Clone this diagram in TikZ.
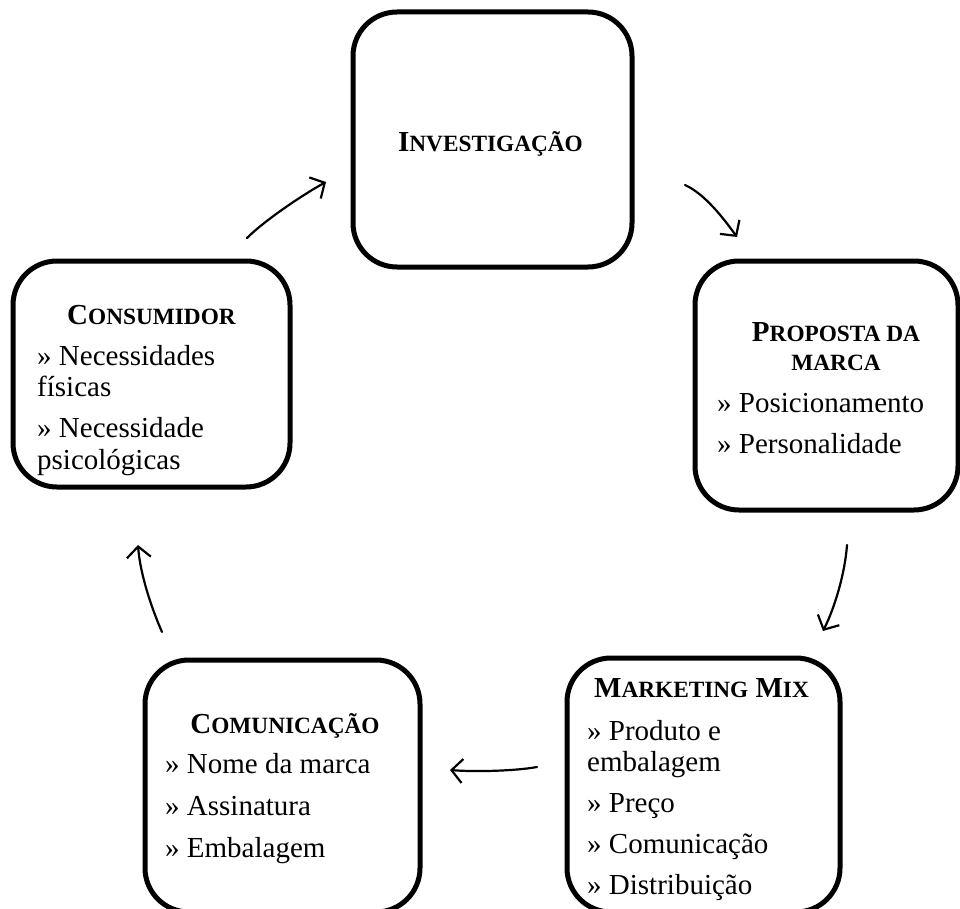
\documentclass[tikz,border=0pt]{standalone}
\usepackage{fontspec}
\setmainfont{Liberation Serif}
\usetikzlibrary{arrows.meta}

% bold heading with hand-made small capitals
\newcommand\smallcapsize{\fontsize{23.3}{28}\selectfont}
\newcommand\headcap[2]{{\bfseries #1{\smallcapsize #2}}}

\begin{document}
\begin{tikzpicture}[x=1pt,y=-1pt,
  stage/.style={draw, line width=5pt, rounded corners=44pt, inner sep=0pt},
  heading/.style={inner sep=0pt, anchor=base},
  items/.style={inner sep=0pt, anchor=base west},
  flow/.style={line width=2.2pt, line cap=round, -{Straight Barb[length=11pt,width=24pt]}},
  every node/.append style={font=\fontsize{29}{31.5}\selectfont}
]
\useasboundingbox (0,0) rectangle (960,909);
\clip (0,0) rectangle (960,909);

% the five stages
\node[stage, minimum width=279pt, minimum height=255pt] (inv)  at (492.5,139.5) {};
\node[stage, minimum width=263pt, minimum height=249pt] (prop) at (826.5,385.5) {};
\node[stage, minimum width=277pt, minimum height=226pt] (cons) at (151.5,374)   {};
\node[stage, minimum width=273pt, minimum height=254pt] (mix)  at (703.5,785)   {};
\node[stage, minimum width=275pt, minimum height=252pt] (com)  at (282.5,786)   {};

% headings
\node[heading] (invT) at (490.5,152) {\headcap{I}{NVESTIGAÇÃO}};
\node[heading] (propT) at (836,341) {\begin{tabular}[t]{@{}c@{}}\headcap{P}{ROPOSTA DA}\\[-2.5pt]{\bfseries\smallcapsize MARCA}\end{tabular}};
\node[heading] (consT) at (151.5,324) {\headcap{C}{ONSUMIDOR}};
\node[heading] (mixT) at (701.5,697) {\headcap{M}{ARKETING} \headcap{M}{IX}};
\node[heading] (comT) at (285,733) {\headcap{C}{OMUNICAÇÃO}};

% item lists
\node[items] (propL) at (717,412) {\begin{tabular}[t]{@{}l@{}}
  » Posicionamento\\[9.5pt]
  » Personalidade
\end{tabular}};
\node[items] (consL) at (37,365) {\begin{tabular}[t]{@{}l@{}}
  » Necessidades\\
  físicas\\[9.5pt]
  » Necessidade\\
  psicológicas
\end{tabular}};
\node[items] (mixL) at (587,740) {\begin{tabular}[t]{@{}l@{}}
  » Produto e\\
  embalagem\\[9.5pt]
  » Preço\\[9.5pt]
  » Comunicação\\[9.5pt]
  » Distribuição
\end{tabular}};
\node[items] (comL) at (165,773) {\begin{tabular}[t]{@{}l@{}}
  » Nome da marca\\[10.5pt]
  » Assinatura\\[10.5pt]
  » Embalagem
\end{tabular}};

% free ends of the cycle arrows
\coordinate (c2iA) at (247,238);  \coordinate (c2iB) at (326,182);
\coordinate (i2pA) at (685,185);  \coordinate (i2pB) at (737,237);
\coordinate (p2mA) at (847,545);  \coordinate (p2mB) at (823,631);
\coordinate (m2cA) at (537,767);  \coordinate (m2cB) at (450,770);
\coordinate (c2kA) at (162,632);  \coordinate (c2kB) at (138,545);

\draw[flow] (c2iA) .. controls (265,220) and (304,194) .. (c2iB);
\draw[flow] (i2pA) .. controls (705,194) and (724,219) .. (i2pB);
\draw[flow] (p2mA) .. controls (845,573) and (835,607) .. (p2mB);
\draw[flow] (m2cA) .. controls (515,771) and (475,772) .. (m2cB);
\draw[flow] (c2kA) .. controls (151,607) and (140,573) .. (c2kB);
\end{tikzpicture}
\end{document}
